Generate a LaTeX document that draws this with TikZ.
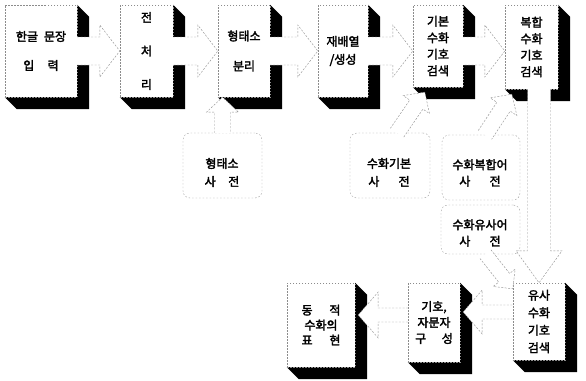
\documentclass[tikz,border=0pt]{standalone}
\usepackage{fontspec}
\newfontfamily\kr{Noto Sans CJK KR}[AutoFakeBold=2.5]
\usetikzlibrary{calc}
\pgfdeclarelayer{bg}
\pgfsetlayers{bg,main}
\tikzset{
  front/.style={draw=black!45, dash pattern=on 1.5pt off 1.5pt, line width=0.4pt,
    fill=white, inner sep=0pt, align=center,
    font=\kr\bfseries\fontsize{12}{16.5}\selectfont},
  solidshade/.style={fill=black},
  dict/.style={draw=black!40, dash pattern=on 1.5pt off 2pt, line width=0.4pt,
    rounded corners=7pt, fill=white, inner sep=0pt},
  dtxt/.style={align=center, inner sep=0pt,
    font=\kr\bfseries\fontsize{12}{16.5}\selectfont},
  barr/.style={fill=white, draw=black!42, dash pattern=on 2pt off 1.5pt, line width=0.45pt},
}
\newcommand\ext[1]{%
  \begin{pgfonlayer}{bg}
    \fill[solidshade] (#1.north east) -- ++(12,12) -- ($(#1.south east)+(12,12)$)
      -- ($(#1.south west)+(12,12)$) -- (#1.south west) -- (#1.south east) -- cycle;
  \end{pgfonlayer}}
\newcommand\barrow[5]{%
  \coordinate (bs) at (#1);
  \coordinate (bt) at (#2);
  \coordinate (bm) at ($(bt)!#5pt!(bs)$);
  \path[barr] ($(bs)!#3pt!90:(bt)$) -- ($(bm)!#3pt!90:(bt)$) -- ($(bm)!#4pt!90:(bt)$)
    -- (bt) -- ($(bm)!#4pt!-90:(bt)$) -- ($(bm)!#3pt!-90:(bt)$) -- ($(bs)!#3pt!-90:(bt)$);
}
\begin{document}
\begin{tikzpicture}[x=1pt, y=-1pt]
\begin{pgfonlayer}{bg}
  \fill[white] (0,0) rectangle (586,380);
\end{pgfonlayer}
\useasboundingbox (0,0) rectangle (586,380);

% top row
\node[front, minimum width=72pt, minimum height=92pt] (b1) at (41,51)
  {한글\hspace{0.5em}문장\\[12.5pt]입\hspace{1.1em}력};
\node[front, minimum width=53pt, minimum height=92pt] (b2) at (146.5,51)
  {전\\[17pt]처\\[17pt]리};
\node[front, minimum width=52pt, minimum height=92pt] (b3) at (244,51)
  {형태소\\[13.5pt]분리};
\node[front, minimum width=50pt, minimum height=92pt] (b4) at (343,51)
  {재배열\\[1.5pt]/생성};
\node[front, minimum width=50pt, minimum height=82pt] (b5) at (438,46)
  {기본\\수화\\기호\\검색};
\node[front, minimum width=53pt, minimum height=84pt] (b6) at (531.5,47)
  {복합\\수화\\기호\\검색};

% bottom row
\node[front, minimum width=52pt, minimum height=77pt] (b7) at (539,321.5)
  {유사\\[1pt]수화\\[1pt]기호\\[1pt]검색};
\node[front, minimum width=52pt, minimum height=79pt] (b8) at (434,322.5)
  {기호,\\[-0.5pt]자문자\\[-0.5pt]구\hspace{1.3em}성};
\node[front, minimum width=68pt, minimum height=84pt] (b9) at (321,325)
  {동\hspace{1.4em}적\\[-1.5pt]수화의\\[-1.5pt]표\hspace{1.4em}현};

\foreach \b in {b1,b2,b3,b4,b5,b6,b7,b8,b9} {\ext{\b}}

% dictionaries
\node[dict, minimum width=79pt, minimum height=65pt] (d1) at (222.5,165.5) {};
\node[dtxt] (d1t) at (222,172.5) {형태소\\[1.5pt]사\hspace{1.05em}전};
\node[dict, minimum width=80pt, minimum height=65pt] (d2) at (390,165.5) {};
\node[dtxt] (d2t) at (389,172.5) {수화기본\\[1.5pt]사\hspace{1.6em}전};
\node[dict, minimum width=78pt, minimum height=65pt] (d3) at (481,167.5) {};
\node[dtxt] (d3t) at (480,173) {수화복합어\\[0pt]사\hspace{1.6em}전};
\node[dict, minimum width=79pt, minimum height=49pt] (d4) at (480.5,229.5) {};
\node[dtxt] (d4t) at (480,233) {수화유사어\\[0pt]사\hspace{1.6em}전};

% top-row arrows
\barrow{b1.east}{b2.west}{14}{26}{20}
\barrow{b2.east}{b3.west}{14}{26}{20}
\barrow{b3.east}{b4.west}{14}{26}{20}
\barrow{b4.east}{b4.east -| b5.west}{14}{26}{20}
\barrow{b4.east -| b5.east}{b4.east -| b6.west}{14}{26}{20}

% dictionary arrows
\barrow{d1.north}{d1.north |- b3.south}{8}{16}{15}
\barrow{$(d2.north)+(7,0)$}{$(b5.south west)+(12,5)$}{8}{16}{15}
\barrow{$(d3.north)+(4,0)$}{$(b6.south west)+(7,5)$}{8}{16}{15}

% down to b7
\barrow{b7.north |- b6.south}{b7.north}{11.5}{23}{32}
\barrow{$(d4.south)+(5,0)$}{$(b7.north west)+(0,6)$}{7}{14}{14}

% bottom-row arrows
\coordinate (c78) at ($(b8.east)+(3,-10.5)$);
\coordinate (c89) at ($(b9.east)+(3,-10)$);
\barrow{b7.west |- c78}{c78}{7}{22}{19}
\barrow{b8.west |- c89}{c89}{7}{23}{20}
\end{tikzpicture}
\end{document}
